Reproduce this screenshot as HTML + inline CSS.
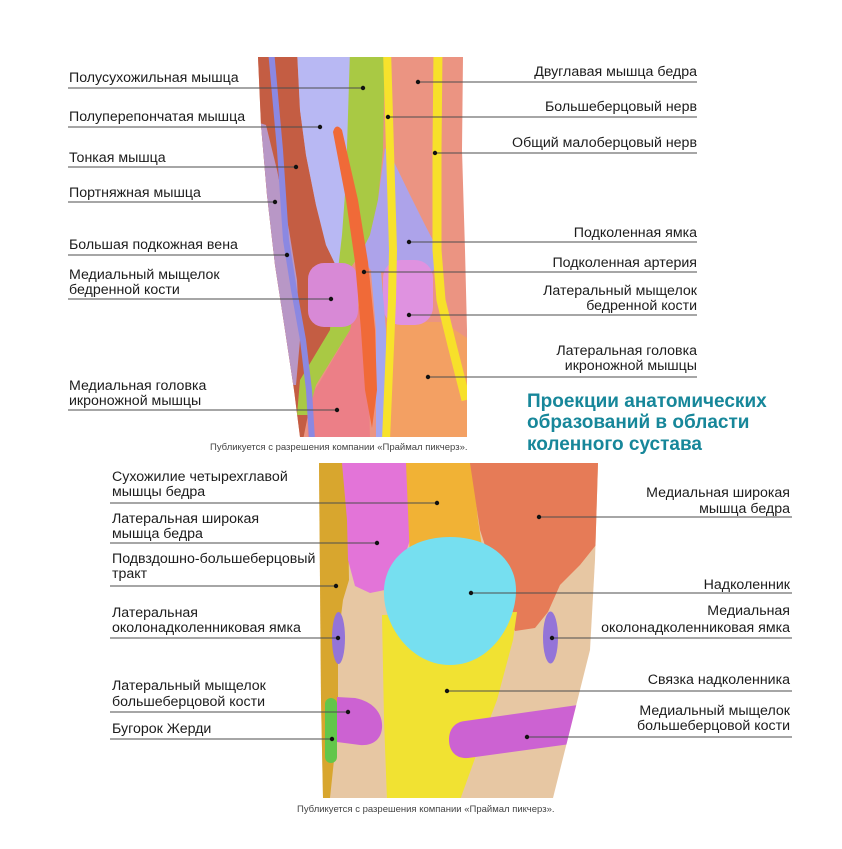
<!DOCTYPE html>
<html><head><meta charset="utf-8"><style>
html,body{margin:0;padding:0;background:#fff;}
svg{display:block;}
.t{font-family:"Liberation Sans","Noto Sans CJK SC",sans-serif;font-size:14.2px;fill:#1c1c1c;}
.r{text-anchor:end;}
.cap{font-family:"Liberation Sans",sans-serif;font-size:9.5px;fill:#444;}
.ttl{font-family:"Liberation Sans",sans-serif;font-size:19px;font-weight:bold;fill:#17879a;}
.ln{stroke:#4d4d4d;stroke-width:1;fill:none;}
</style></head><body>
<svg width="842" height="849" viewBox="0 0 842 849" xmlns="http://www.w3.org/2000/svg">
<defs>
<clipPath id="c1"><path d="M258,57 L463,57 L462,150 L465,250 L467,330 L467,437 L300,437 L294,390 L285,330 L275,265 L267,195 L261,125 Z"/></clipPath>
<clipPath id="c2"><path d="M319,463 L598,463 L595,560 L590,650 L580,690 L553,798 L323,798 L321,700 Z"/></clipPath>
</defs>
<rect width="842" height="849" fill="#fff"/>

<!-- TOP IMAGE -->
<g clip-path="url(#c1)">
<rect x="250" y="50" width="230" height="400" fill="#eb9482"/>
<path d="M250,50 L297,50 L300,110 L306,155 L316,205 L326,245 L338,270 L332,330 L315,380 L303,440 L250,440 Z" fill="#c45d43"/>
<path d="M250,120 L266,125 L277,170 L289,230 L297,280 L300,340 L296,385 L250,385 Z" fill="#b897c6"/>
<path d="M297,50 L352,50 L350,120 L346,190 L342,240 L338,270 L326,245 L316,205 L306,155 L300,110 Z" fill="#b8b8f3"/>
<path d="M350,50 L385,50 L383,150 L378,200 L370,235 L360,255 L345,275 L338,270 L342,235 L346,180 Z" fill="#a9c944"/>
<path d="M385,148 L394,162 L410,195 L425,225 L437,248 L440,262 L432,272 L372,272 L360,255 L370,235 L378,200 Z" fill="#ada3ea"/>
<path d="M345,330 L362,300 L367,300 L370,440 L308,440 L307,400 L318,385 L350,330 Z" fill="#ec7f87"/>
<path d="M332,300 L356,300 L350,330 L316,385 L308,415 L297,415 L300,380 L330,330 Z" fill="#a9c944"/>
<path d="M271,50 L280,150 L286,240 L294,290 L303,340 L309,390 L312,440" stroke="#8b88e2" stroke-width="6" fill="none"/>
<path d="M386,322 L445,322 L455,330 L470,340 L470,440 L384,440 Z" fill="#f3a063"/>
<rect x="308" y="263" width="50" height="64" rx="16" fill="#d889d6"/>
<rect x="383" y="260" width="50" height="65" rx="18" fill="#df92e0"/>
<path d="M376,272 L381,330 L381,440" stroke="#a4a6ef" stroke-width="10" fill="none"/>
<path d="M333,132 Q336,122 342,130 L358,200 L368,262 L375,330 L377,390 L372,428 L365,390 L361,330 L355,262 L346,200 Z" fill="#f06a38"/>
<path d="M387,50 L390,150 L393,250 L392,300 L389,370 L386,440" stroke="#f7e22c" stroke-width="8" fill="none"/>
<path d="M438,50 L437,150 L437,250 L441,300 L452,345 L466,400" stroke="#f7e02a" stroke-width="9" fill="none"/>
</g>

<!-- BOTTOM IMAGE -->
<g clip-path="url(#c2)">
<rect x="310" y="455" width="300" height="350" fill="#e7c7a3"/>
<path d="M318,463 L344,463 L348,520 L349,580 L343,600 L338,640 L338,700 L334,760 L330,798 L318,798 Z" fill="#d8a62e"/>
<path d="M342,463 L407,463 L410,540 L400,570 L385,590 L370,593 L355,586 L348,560 L347,520 Z" fill="#e374d8"/>
<path d="M406,463 L472,463 L478,520 L484,560 L410,560 Z" fill="#f1b235"/>
<path d="M470,463 L600,463 L600,540 L580,565 L560,585 L548,612 L535,628 L515,631 L505,605 L493,570 L480,530 Z" fill="#e67b57"/>
<path d="M382,615 L517,612 L513,640 L497,700 L478,750 L460,800 L387,800 L384,720 Z" fill="#f1e232"/>
<path d="M450,537 C490,537 517,560 516,592 C515,625 490,665 450,665 C412,665 385,628 384,595 C383,560 410,537 450,537 Z" fill="#76dff0"/>
<ellipse cx="338.5" cy="638" rx="6.5" ry="26" fill="#9474d8"/>
<ellipse cx="550.5" cy="637.5" rx="7.5" ry="26" fill="#9474d8"/>
<path d="M337,697 L355,698 C375,702 383,715 382,728 C381,740 372,746 360,745 L337,742 Z" fill="#cc62d2"/>
<rect x="325" y="698" width="12" height="65" rx="6" fill="#62c64a"/>
<path d="M465,721 L585,704 L585,742 L468,758 C455,759 449,750 449,740 C449,729 455,722 465,721 Z" fill="#cc62d2"/>
</g>

<g class="ln">
<line x1="68" y1="88" x2="363" y2="88"/>
<line x1="68" y1="127" x2="320" y2="127"/>
<line x1="68" y1="167" x2="296" y2="167"/>
<line x1="68" y1="202" x2="275" y2="202"/>
<line x1="68" y1="255" x2="287" y2="255"/>
<line x1="68" y1="299" x2="331" y2="299"/>
<line x1="68" y1="410" x2="337" y2="410"/>
<line x1="418" y1="82" x2="697" y2="82"/>
<line x1="388" y1="117" x2="697" y2="117"/>
<line x1="435" y1="153" x2="697" y2="153"/>
<line x1="409" y1="242" x2="697" y2="242"/>
<line x1="364" y1="272" x2="697" y2="272"/>
<line x1="409" y1="315" x2="697" y2="315"/>
<line x1="428" y1="377" x2="697" y2="377"/>
<line x1="110" y1="503" x2="437" y2="503"/>
<line x1="110" y1="543" x2="377" y2="543"/>
<line x1="110" y1="586" x2="336" y2="586"/>
<line x1="110" y1="638" x2="338" y2="638"/>
<line x1="110" y1="712" x2="348" y2="712"/>
<line x1="110" y1="739" x2="332" y2="739"/>
<line x1="539" y1="517" x2="792" y2="517"/>
<line x1="471" y1="593" x2="792" y2="593"/>
<line x1="552" y1="638" x2="792" y2="638"/>
<line x1="447" y1="691" x2="792" y2="691"/>
<line x1="527" y1="737" x2="792" y2="737"/>
</g>
<g fill="#111">
<circle cx="363" cy="88" r="2.2"/><circle cx="320" cy="127" r="2.2"/><circle cx="296" cy="167" r="2.2"/>
<circle cx="275" cy="202" r="2.2"/><circle cx="287" cy="255" r="2.2"/><circle cx="331" cy="299" r="2.2"/>
<circle cx="337" cy="410" r="2.2"/><circle cx="418" cy="82" r="2.2"/><circle cx="388" cy="117" r="2.2"/>
<circle cx="435" cy="153" r="2.2"/><circle cx="409" cy="242" r="2.2"/><circle cx="364" cy="272" r="2.2"/>
<circle cx="409" cy="315" r="2.2"/><circle cx="428" cy="377" r="2.2"/>
<circle cx="437" cy="503" r="2.2"/><circle cx="377" cy="543" r="2.2"/><circle cx="336" cy="586" r="2.2"/>
<circle cx="338" cy="638" r="2.2"/><circle cx="348" cy="712" r="2.2"/><circle cx="332" cy="739" r="2.2"/>
<circle cx="539" cy="517" r="2.2"/><circle cx="471" cy="593" r="2.2"/><circle cx="552" cy="638" r="2.2"/>
<circle cx="447" cy="691" r="2.2"/><circle cx="527" cy="737" r="2.2"/>
</g>

<g class="t">
<text x="69" y="82">Полусухожильная мышца</text>
<text x="69" y="121">Полуперепончатая мышца</text>
<text x="69" y="162">Тонкая мышца</text>
<text x="69" y="197">Портняжная мышца</text>
<text x="69" y="249">Большая подкожная вена</text>
<text x="69" y="279">Медиальный мыщелок</text>
<text x="69" y="294">бедренной кости</text>
<text x="69" y="390">Медиальная головка</text>
<text x="69" y="405">икроножной мышцы</text>

<text class="r" x="697" y="76">Двуглавая мышца бедра</text>
<text class="r" x="697" y="111">Большеберцовый нерв</text>
<text class="r" x="697" y="147">Общий малоберцовый нерв</text>
<text class="r" x="697" y="237">Подколенная ямка</text>
<text class="r" x="697" y="267">Подколенная артерия</text>
<text class="r" x="697" y="295">Латеральный мыщелок</text>
<text class="r" x="697" y="310">бедренной кости</text>
<text class="r" x="697" y="355">Латеральная головка</text>
<text class="r" x="697" y="370">икроножной мышцы</text>

<text x="112" y="481">Сухожилие четырехглавой</text>
<text x="112" y="496">мышцы бедра</text>
<text x="112" y="523">Латеральная широкая</text>
<text x="112" y="538">мышца бедра</text>
<text x="112" y="563">Подвздошно-большеберцовый</text>
<text x="112" y="578">тракт</text>
<text x="112" y="617">Латеральная</text>
<text x="112" y="632">околонадколенниковая ямка</text>
<text x="112" y="690">Латеральный мыщелок</text>
<text x="112" y="706">большеберцовой кости</text>
<text x="112" y="733">Бугорок Жерди</text>

<text class="r" x="790" y="497">Медиальная широкая</text>
<text class="r" x="790" y="513">мышца бедра</text>
<text class="r" x="790" y="589">Надколенник</text>
<text class="r" x="790" y="615">Медиальная</text>
<text class="r" x="790" y="632">околонадколенниковая ямка</text>
<text class="r" x="790" y="684">Связка надколенника</text>
<text class="r" x="790" y="715">Медиальный мыщелок</text>
<text class="r" x="790" y="730">большеберцовой кости</text>
</g>

<text class="cap" x="210" y="450">Публикуется с разрешения компании «Праймал пикчерз».</text>
<text class="cap" x="297" y="812">Публикуется с разрешения компании «Праймал пикчерз».</text>

<g class="ttl">
<text x="527" y="407">Проекции анатомических</text>
<text x="527" y="428">образований в области</text>
<text x="527" y="450">коленного сустава</text>
</g>
</svg>
</body></html>
